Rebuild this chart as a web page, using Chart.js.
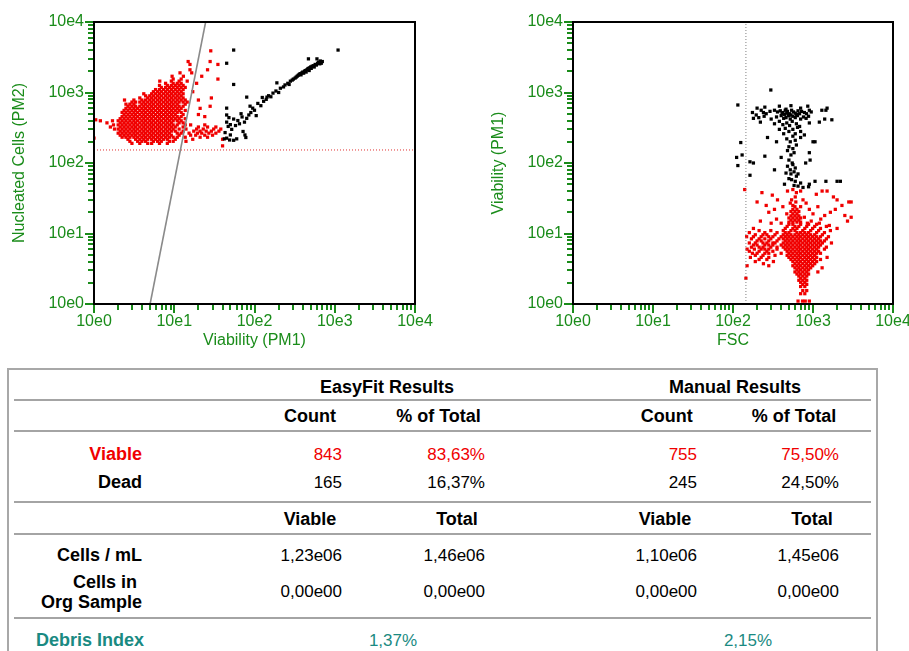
<!DOCTYPE html>
<html>
<head>
<meta charset="utf-8">
<title>Viability</title>
<script src="https://cdn.jsdelivr.net/npm/chart.js@4.4.0/dist/chart.umd.min.js"></script>
<style>
body { margin:0; background:#fff; width:909px; height:651px; overflow:hidden; position:relative; font-family:'Liberation Sans', Arial, sans-serif; }
canvas { position:absolute; top:0; }
#leftChart, #leftMarks { left:0; }
#rightChart, #rightMarks { left:480px; }
#leftMarks, #rightMarks { z-index:5; pointer-events:none; }
#results { position:absolute; left:7px; top:368px; width:871px; height:320px; border:2px solid #a8a8a8; box-sizing:border-box; }
.rule { position:absolute; left:14px; width:857px; height:2px; background:#a4a4a4; }
.t { position:absolute; white-space:nowrap; font-size:17px; line-height:1; color:#000; }
.b { font-weight:bold; font-size:18px; }
</style>
</head>
<body>
<canvas id="leftChart" width="440" height="350"></canvas>
<canvas id="rightChart" width="445" height="350"></canvas>
<canvas id="leftMarks" width="440" height="350"></canvas>
<canvas id="rightMarks" width="445" height="350"></canvas>
<div id="results"></div>
<script>
// axis labels
const decadeLabels = ['10e0', '10e1', '10e2', '10e3', '10e4'];

// left plot: Viability (PM1) vs Nucleated Cells (PM2)
// viable cells, rows of [y, [x...]]
const leftViable = [
    [175, [40]],
    [190, [2.97, 3.72, 4.67, 5.23, 6.55, 8.2]],
    [203, [2.8, 3.5, 3.95, 4.4, 5.5, 6.2, 6.9, 8.7, 9.7, 14]],
    [217, [2.65, 3.3, 3.72, 4.17, 4.67, 5.23, 5.85, 6.55, 7.35, 8.2, 10.3, 17, 40]],
    [225, [1.0]],
    [232, [2.24, 2.5, 2.8, 3.14, 3.5, 3.95, 4.4, 4.95, 5.5, 6.2, 6.9, 7.8, 8.7, 9.7, 10.9, 13.7, 21, 26]],
    [248, [2.12, 2.37, 2.65, 2.97, 3.3, 3.72, 4.17, 4.67, 5.23, 5.85, 6.55, 7.35, 8.2, 9.2, 11.5, 16, 18.5, 24, 30]],
    [265, [2.0, 2.24, 2.5, 2.8, 3.14, 3.5, 3.95, 4.4, 4.95, 5.5, 6.2, 6.9, 7.8, 8.7, 10.9, 12.2, 15.3, 19.5, 22, 27, 33]],
    [283, [2.12, 2.37, 2.65, 2.97, 3.3, 3.72, 4.17, 4.67, 5.23, 5.85, 6.55, 7.35, 8.2, 9.2, 10.3, 12.9, 17.5, 21, 25, 29, 36]],
    [303, [1.8, 2.0, 2.24, 2.5, 2.8, 3.14, 3.5, 3.95, 4.4, 4.95, 5.5, 6.2, 6.9, 7.8, 8.7, 9.7, 11.5, 14, 19, 23, 31, 38]],
    [324, [1.6, 2.12, 2.37, 2.65, 2.97, 3.3, 3.72, 4.17, 4.67, 5.23, 5.85, 6.55, 7.35, 8.2, 9.2, 10.3, 12.9, 20, 26, 33]],
    [347, [1.75, 2.0, 2.24, 2.5, 2.8, 3.14, 3.5, 3.95, 4.4, 4.95, 5.5, 6.2, 6.9, 7.8, 8.7, 9.7, 10.9, 13.7, 16, 24]],
    [371, [1.45, 2.12, 2.37, 2.65, 2.97, 3.3, 3.72, 4.17, 4.67, 5.23, 5.85, 6.55, 7.35, 8.2, 9.2, 11.5, 12.9]],
    [397, [1.2, 1.7, 2.0, 2.24, 2.5, 2.8, 3.14, 3.5, 3.95, 4.4, 4.95, 5.5, 6.2, 6.9, 7.8, 8.7, 9.7, 10.9, 12.2]],
    [410, [1.05]],
    [425, [2.12, 2.37, 2.65, 2.97, 3.3, 3.72, 4.17, 4.67, 5.23, 5.85, 6.55, 7.35, 8.2, 9.2, 10.3, 11.5, 13.7]],
    [455, [2.24, 2.5, 2.8, 3.14, 3.5, 3.95, 4.4, 4.95, 5.5, 6.2, 6.9, 7.8, 8.7, 9.7, 10.9, 12.2, 24]],
    [487, [2.37, 2.65, 2.97, 3.3, 3.72, 4.17, 4.67, 5.23, 5.85, 6.55, 7.35, 8.2, 9.2, 10.3, 12.9, 20]],
    [521, [2.24, 2.5, 2.8, 3.14, 3.5, 3.95, 4.4, 4.95, 5.5, 6.2, 6.9, 7.8, 8.7, 9.7, 10.9, 12.2]],
    [557, [2.37, 2.65, 2.97, 3.3, 3.72, 4.17, 4.67, 5.23, 5.85, 6.55, 7.35, 8.2, 9.2, 10.3, 11.5, 13.7]],
    [596, [2.5, 2.8, 3.14, 3.5, 3.95, 4.4, 4.95, 5.5, 6.2, 6.9, 7.8, 8.7, 9.7, 10.9, 12.2, 21]],
    [638, [2.65, 2.97, 3.3, 3.72, 4.17, 4.67, 5.23, 5.85, 6.55, 7.35, 8.2, 9.2, 10.3, 11.5, 12.9, 28]],
    [683, [2.5, 2.8, 3.14, 3.95, 4.4, 4.95, 5.5, 6.2, 6.9, 7.8, 8.7, 9.7, 10.9, 13.7]],
    [731, [2.97, 3.3, 3.72, 4.17, 4.67, 5.23, 5.85, 6.55, 7.35, 8.2, 9.2, 10.3, 11.5, 12.9, 14.5]],
    [782, [2.4, 3.14, 3.95, 4.4, 4.95, 5.5, 6.2, 6.9, 7.8, 8.7, 9.7, 10.9, 12.2, 13.7, 20]],
    [837, [3.72, 4.67, 5.23, 5.85, 6.55, 7.35, 8.2, 9.2, 10.3, 11.5, 12.9, 29]],
    [896, [4.4, 4.95, 5.5, 6.2, 6.9, 7.8, 8.7, 9.7, 10.9, 12.2]],
    [959, [4.17, 5.23, 5.85, 6.55, 7.35, 8.2, 9.2, 10.3, 11.5, 12.9]],
    [1026, [5.5, 6.2, 6.9, 7.8, 8.7, 9.7, 10.9, 12.2, 17]],
    [1100, [5.85, 6.55, 7.35, 8.2, 9.2, 10.3, 11.5, 12.9]],
    [1180, [6.9, 7.8, 8.7, 9.7, 10.9, 12.2, 13.7]],
    [1260, [6.55, 8.2, 9.2, 10.3, 11.5, 12.9]],
    [1350, [7.8, 9.7, 10.9, 12.2, 19]],
    [1450, [6.6, 9.2, 11.5, 14.5]],
    [1550, [9.7, 12.2, 35]],
    [1700, [9.4, 13, 22]],
    [1900, [11.8, 16.5]],
    [2100, [15.7, 26]],
    [2500, [15.7, 35]],
    [2750, [14.9, 28]],
    [3900, [28.5]]
];
// dead cells, [x, y]
const leftDead = [
    [42, 220], [45, 225], [55, 210], [49, 212], [60, 220], [50, 250], [76, 250], [78, 230],
    [43, 270], [72, 280], [52, 300], [47, 330], [58, 340], [50, 350], [65, 360], [45, 380],
    [75, 380], [62, 400], [55, 420], [80, 430], [48, 440], [70, 450], [45, 480], [85, 480],
    [68, 500], [105, 470], [90, 520], [100, 560], [45, 600], [95, 600], [88, 640], [120, 650],
    [110, 700], [130, 750], [140, 800], [80, 860], [143, 860], [125, 850], [150, 900], [160, 870],
    [170, 980], [200, 1000], [185, 1050], [210, 1150], [230, 1200], [240, 1280], [55, 1300],
    [270, 1300], [190, 1370], [260, 1350], [280, 1450], [295, 1500], [305, 1550], [320, 1600],
    [330, 1650], [340, 1700], [350, 1750], [380, 1780], [360, 1800], [370, 1850], [410, 1880],
    [390, 1900], [400, 1950], [440, 1950], [420, 2000], [430, 2050], [480, 2050], [450, 2100],
    [460, 2150], [470, 2200], [510, 2200], [490, 2250], [500, 2300], [555, 2300], [520, 2350],
    [540, 2400], [590, 2450], [570, 2500], [650, 2550], [45, 2600], [610, 2600], [680, 2600],
    [630, 2700], [700, 2750], [660, 2800], [600, 3000], [470, 3000], [55, 4000], [1100, 4000]
];
// gates
const leftGate = [[5, 1], [24.6, 10000]];
const leftThreshold = 153;

// right plot: FSC vs Viability (PM1)
const rightViable = [
    [42, [140, 560]],
    [40, [480, 700, 1300, 1500]],
    [38, [230, 620]],
    [36, [1100]],
    [35, [310]],
    [33, [600, 1800]],
    [30, [360, 540, 750, 2000]],
    [28, [200, 610, 2800, 3000]],
    [27, [520, 820]],
    [25, [260, 560, 2300]],
    [24, [420, 595, 700, 1150]],
    [22, [330, 560, 630, 900, 1900]],
    [20.5, [530, 595, 665]],
    [20, [280, 1650]],
    [19, [470, 560, 630, 1000]],
    [18, [1400, 2500]],
    [17.8, [530, 595, 665]],
    [17, [780, 3000]],
    [16.6, [500, 560, 630, 700]],
    [16, [350, 1250]],
    [15.5, [530, 595, 665]],
    [15, [220, 950, 2700]],
    [14.5, [500, 560, 630, 700]],
    [14, [300, 400, 850, 1200]],
    [13.5, [500, 560, 700, 880, 1110]],
    [13, [1600]],
    [12.6, [475, 595, 665, 835, 1050, 1470]],
    [11.8, [180, 450, 560, 630, 790, 990, 1240, 2000]],
    [11.0, [212, 297, 425, 530, 595, 745, 935, 1175, 1650]],
    [10.3, [160, 250, 355, 450, 500, 630, 700, 790, 880, 1110, 1390]],
    [9.6, [190, 237, 265, 335, 425, 475, 530, 595, 665, 745, 835, 935, 1050, 1310]],
    [9.0, [148, 180, 225, 280, 315, 400, 450, 500, 560, 630, 700, 790, 880, 990, 1110, 1240, 1560]],
    [8.4, [170, 212, 250, 297, 375, 425, 475, 530, 595, 665, 745, 835, 935, 1050, 1175, 1470]],
    [7.85, [200, 225, 280, 355, 450, 500, 560, 630, 700, 790, 880, 990, 1110, 1240, 1390]],
    [7.34, [160, 190, 237, 265, 315, 335, 425, 475, 530, 595, 665, 745, 835, 935, 1050, 1175, 1310, 1700]],
    [6.86, [180, 200, 250, 280, 315, 400, 450, 500, 560, 630, 700, 790, 880, 990, 1110, 1240]],
    [6.4, [170, 212, 237, 297, 355, 425, 475, 530, 595, 665, 745, 835, 935, 1050, 1175, 1470]],
    [6.0, [150, 185, 225, 250, 280, 355, 450, 500, 560, 630, 700, 790, 880, 990, 1110, 1390]],
    [5.6, [160, 212, 265, 315, 475, 530, 595, 665, 745, 835, 935, 1050, 1175]],
    [5.24, [175, 200, 250, 280, 400, 500, 560, 630, 700, 790, 880, 990, 1110, 1240]],
    [4.9, [190, 237, 335, 475, 530, 595, 665, 745, 835, 935, 1050]],
    [4.58, [165, 225, 280, 500, 560, 630, 700, 790, 880, 990, 1110, 1500]],
    [4.28, [212, 265, 530, 595, 665, 745, 835, 935, 1050, 1240]],
    [4.0, [190, 320, 560, 630, 700, 790, 880, 990, 1110]],
    [3.73, [240, 595, 665, 745, 835, 935, 1050]],
    [3.49, [150, 280, 560, 630, 700, 790, 880, 990]],
    [3.26, [595, 665, 745, 835, 935, 1300]],
    [3.05, [630, 700, 790, 880]],
    [2.85, [595, 665, 745, 835, 1150]],
    [2.66, [630, 700, 790, 880]],
    [2.49, [665, 745, 835]],
    [2.32, [145, 700, 790]],
    [2.17, [665, 745, 835]],
    [2.03, [700, 790]],
    [1.9, [745, 835]],
    [1.77, [700, 790]],
    [1.55, [745, 835]],
    [1.4, [700, 790]],
    [1.1, [650, 740, 800, 900]]
];
const rightDead = [
    [297, 1085], [115, 665], [200, 600], [250, 620], [380, 640], [530, 650], [700, 600], [860, 640],
    [1500, 600], [1450, 560], [1290, 560],
    [175, 520], [195, 480], [225, 560], [240, 520], [260, 500], [290, 540], [330, 560], [360, 530],
    [390, 550], [420, 520], [450, 560], [480, 540], [510, 500], [540, 560], [570, 530], [600, 510],
    [650, 550], [720, 540], [780, 520], [830, 500], [900, 560], [950, 530],
    [410, 500], [440, 490], [470, 510], [500, 470], [530, 480], [620, 490], [680, 500], [460, 580],
    [180, 430], [210, 440], [245, 460], [300, 420], [350, 450], [400, 470], [430, 430], [460, 440],
    [490, 470], [520, 420], [560, 460], [600, 440], [640, 470], [700, 420], [760, 450], [820, 430],
    [880, 460], [1400, 420], [1720, 410], [1200, 380],
    [220, 380], [330, 360], [380, 390], [420, 350], [470, 370], [510, 340], [550, 390], [620, 360],
    [680, 330], [900, 370],
    [450, 310], [500, 280], [560, 300], [600, 260], [640, 320], [430, 260], [700, 280], [780, 250],
    [380, 300],
    [470, 220], [520, 200], [560, 240], [600, 210], [500, 170], [560, 160], [620, 180], [480, 150],
    [530, 130], [580, 140], [1000, 200], [700, 230], [900, 140], [920, 110], [810, 100], [500, 110],
    [550, 100],
    [480, 90], [520, 80], [560, 95], [600, 85], [530, 70], [580, 75], [620, 65], [500, 60], [460, 72],
    [650, 70], [540, 58], [600, 55], [440, 50], [700, 52], [900, 50], [1060, 55], [1450, 55],
    [2000, 55], [2200, 55], [580, 48], [650, 47], [750, 45], [880, 46],
    [125, 195], [111, 120], [115, 92], [163, 104], [163, 67], [250, 125], [270, 230], [1060, 200],
    [180, 100], [130, 130], [330, 80], [400, 120], [350, 200]
];
const rightGate = 145;

// tabla de resultados
const groupHeads = ['EasyFit Results', 'Manual Results'];
const countHeads = ['Count', '% of Total', 'Count', '% of Total'];
const viableRow = ['843', '83,63%', '755', '75,50%'];
const deadRow = ['165', '16,37%', '245', '24,50%'];
const concHeads = ['Viable', 'Total', 'Viable', 'Total'];
const cellsPerMl = ['1,23e06', '1,46e06', '1,10e06', '1,45e06'];
const cellsInSample = ['0,00e00', '0,00e00', '0,00e00', '0,00e00'];
const debrisIndex = ['1,37%', '2,15%'];

const green = '#1a8c1a';
const red = '#f00000';
const teal = '#1a8a82';

// convertir filas a puntos
function fromRows(rows) {
    const pts = [];
    rows.forEach(([y, xs]) => xs.forEach(x => pts.push({ x, y })));
    return pts;
}
function fromPairs(pairs) {
    return pairs.map(([x, y]) => ({ x, y }));
}

// marcas del eje logaritmico: 1..9 por decada
const logTicks = [];
for (let e = 0; e < decadeLabels.length - 1; e++) {
    for (let m = 1; m < 10; m++) logTicks.push({ value: m * Math.pow(10, e), major: m === 1 });
}
logTicks.push({ value: Math.pow(10, decadeLabels.length - 1), major: true });

function decadeLabel(v) {
    const l = Math.log10(v);
    return Math.abs(l - Math.round(l)) < 1e-6 ? decadeLabels[Math.round(l)] : '';
}

function logAxis(pos, title, size, titlePad) {
    return {
        type: 'logarithmic',
        position: pos,
        min: 1,
        max: 10000,
        afterBuildTicks: s => { s.ticks = logTicks.map(t => ({ ...t })); },
        afterFit: s => { if (pos === 'left') s.width = size; else s.height = size; },
        grid: { display: true, drawOnChartArea: false, drawTicks: true, tickLength: 6, color: green, tickColor: green, lineWidth: 2, tickWidth: 2 },
        border: { display: false },
        ticks: {
            autoSkip: false, maxRotation: 0, minRotation: 0,
            padding: pos === 'left' ? 4 : 2,
            color: green,
            font: { size: 16 },
            callback: decadeLabel
        },
        title: {
            display: true, text: title, color: green, font: { size: 16 },
            padding: pos === 'left' ? { top: titlePad, bottom: 0 } : { top: 0, bottom: 0 }
        }
    };
}

function pointSet(data, color) {
    return {
        data, backgroundColor: color, borderWidth: 0,
        pointStyle: 'rect', pointRadius: 2.3, pointHoverRadius: 2.3
    };
}
function gateSet(data, color, dash, width) {
    return {
        data, showLine: true, borderColor: color, borderWidth: width, borderDash: dash,
        pointRadius: 0, pointHoverRadius: 0
    };
}

function makeChart(id, datasets, xTitle, yTitle, yWidth, rightPad, titlePad) {
    return new Chart(document.getElementById(id), {
        type: 'scatter',
        data: { datasets },
        options: {
            responsive: false,
            animation: false,
            events: [],
            layout: { padding: { top: 22, right: rightPad, left: 0, bottom: 0 } },
            plugins: { legend: { display: false }, tooltip: { enabled: false } },
            scales: {
                x: logAxis('bottom', xTitle, 46),
                y: logAxis('left', yTitle, yWidth, titlePad)
            }
        }
    });
}

// marcas y marco en una capa encima, con las escalas del grafico
function drawMarks(chart, canvasId) {
    const ctx = document.getElementById(canvasId).getContext('2d');
    const a = chart.chartArea;
    const sx = chart.scales.x, sy = chart.scales.y;
    ctx.strokeStyle = green;
    ctx.lineWidth = 2;
    logTicks.forEach(t => {
        const len = t.major ? 9 : 6;
        const py = Math.round(sy.getPixelForValue(t.value));
        ctx.beginPath(); ctx.moveTo(a.left - len, py); ctx.lineTo(a.left, py); ctx.stroke();
        const px = Math.round(sx.getPixelForValue(t.value));
        ctx.beginPath(); ctx.moveTo(px, a.bottom); ctx.lineTo(px, a.bottom + len); ctx.stroke();
    });
    ctx.strokeStyle = '#000';
    ctx.lineWidth = 2;
    ctx.strokeRect(a.left, a.top, a.right - a.left, a.bottom - a.top);
}

Chart.defaults.font.family = "'Liberation Sans', Arial, sans-serif";

const leftChart = makeChart('leftChart', [
    gateSet(fromPairs(leftGate), '#8a8a8a', [], 1.6),
    gateSet([{ x: 1, y: leftThreshold }, { x: 10000, y: leftThreshold }], '#e03030', [1, 2], 1),
    pointSet(fromPairs(leftDead), '#000'),
    pointSet(fromRows(leftViable), red)
], 'Viability (PM1)', 'Nucleated Cells (PM2)', 94, 25, 9.5);

const rightChart = makeChart('rightChart', [
    gateSet([{ x: rightGate, y: 1 }, { x: rightGate, y: 10000 }], '#808080', [1, 2], 1),
    pointSet(fromPairs(rightDead), '#000'),
    pointSet(fromRows(rightViable), red)
], 'FSC', 'Viability (PM1)', 93, 32, 8.5);

drawMarks(leftChart, 'leftMarks');
drawMarks(rightChart, 'rightMarks');

// tabla
function place(text, x, y, align, cls, color) {
    const el = document.createElement('div');
    el.className = 't ' + (cls || '');
    el.textContent = text;
    el.style.left = x + 'px';
    el.style.top = y + 'px';
    const tx = align === 'right' ? '-100%' : align === 'center' ? '-50%' : '0';
    el.style.transform = 'translate(' + tx + ', -50%)';
    if (color) el.style.color = color;
    document.body.appendChild(el);
}
[400, 431, 502, 534, 618].forEach(y => {
    const r = document.createElement('div');
    r.className = 'rule';
    r.style.top = (y - 1) + 'px';
    document.body.appendChild(r);
});

const valueRight = [342, 485, 697, 839];
place(groupHeads[0], 387, 387, 'center', 'b');
place(groupHeads[1], 735, 387, 'center', 'b');
[310, 438.5, 666.7, 794].forEach((x, i) => place(countHeads[i], x, 416, 'center', 'b'));
place('Viable', 142, 454, 'right', 'b', red);
place('Dead', 142, 482, 'right', 'b');
valueRight.forEach((x, i) => {
    place(viableRow[i], x, 454, 'right', '', red);
    place(deadRow[i], x, 482, 'right');
});
[310, 457, 665, 812].forEach((x, i) => place(concHeads[i], x, 519, 'center', 'b'));
place('Cells / mL', 142, 555, 'right', 'b');
place('Cells in', 137, 582, 'right', 'b');
place('Org Sample', 142, 602, 'right', 'b');
valueRight.forEach((x, i) => {
    place(cellsPerMl[i], x, 555, 'right');
    place(cellsInSample[i], x, 591, 'right');
});
place('Debris Index', 36, 640, 'left', 'b', teal);
place(debrisIndex[0], 393, 640, 'center', '', teal);
place(debrisIndex[1], 748, 640, 'center', '', teal);
</script>
</body>
</html>
